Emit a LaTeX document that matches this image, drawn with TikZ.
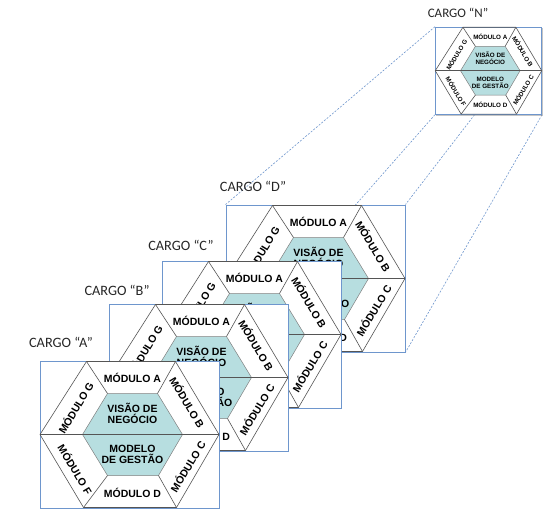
\documentclass[tikz,border=0pt]{standalone}
\usepackage{fontspec}
\setmainfont{Carlito}
\newfontfamily\modfont{Liberation Sans}
\usetikzlibrary{calc, shadows}
\pgfdeclarelayer{fundo}
\pgfsetlayers{fundo,main}

\definecolor{azulquadro}{RGB}{110,150,205}
\definecolor{verdeagua}{RGB}{183,222,224}
\definecolor{linhahex}{RGB}{85,85,85}

\tikzset{
  quadro/.style={draw=azulquadro, fill=white, line width=0.9pt, minimum width=179pt, minimum height=147pt, inner sep=0pt,
    drop shadow={shadow xshift=1.2pt, shadow yshift=-1.2pt, fill=black!45, opacity=0.5}},
  modulo/.style={font=\modfont\bfseries\fontsize{10.5}{11.5}\selectfont, align=center, inner sep=0pt},
  rotulo/.style={font=\fontsize{14.3}{16}\selectfont, text=black!85},
  hexlinha/.style={draw=linhahex, line width=0.6pt},
  perspectiva/.style={draw=azulquadro, dash pattern=on 2pt off 1.5pt, line width=0.6pt},
  cargo/.pic={
    \node[quadro] (-box) at (0,0) {};
    % hexagono externo
    \coordinate (-o1) at (-89.5,0);
    \coordinate (-o2) at (-43,-73);
    \coordinate (-o3) at (46,-73);
    \coordinate (-o4) at (89.5,0);
    \coordinate (-o5) at (47,73);
    \coordinate (-o6) at (-46,73);
    % hexagono interno
    \coordinate (-i1) at (-47,0);
    \coordinate (-i2) at (-22,-41);
    \coordinate (-i3) at (28,-41);
    \coordinate (-i4) at (53,0);
    \coordinate (-i5) at (29,41);
    \coordinate (-i6) at (-22,41);
    \fill[verdeagua] (-i1) -- (-i2) -- (-i3) -- (-i4) -- (-i5) -- (-i6) -- cycle;
    \draw[gray, line width=0.5pt] (-i1) -- (-i2) -- (-i3) -- (-i4) -- (-i5) -- (-i6) -- cycle;
    \draw[hexlinha] (-o1) -- (-o2) -- (-o3) -- (-o4) -- (-o5) -- (-o6) -- cycle;
    \draw[hexlinha] (-o1) -- (-o4);
    \foreach \k in {2,3,5,6} \draw[hexlinha] (-o\k) -- (-i\k);
    \node[modulo] (-a) at (3,-57) {MÓDULO A};
    \node[modulo] (-d) at (3,58) {MÓDULO D};
    \node[modulo] (-visao) at (3,-21) {VISÃO DE\\NEGÓCIO};
    \node[modulo] (-gestao) at (3,20) {MODELO\\DE GESTÃO};
    \node[modulo, rotate=59] (-g) at (-54,-27) {MÓDULO G};
    \node[modulo, rotate=-59] (-b) at (58,-32) {MÓDULO B};
    \node[modulo, rotate=-59] (-f) at (-54,35) {MÓDULO F};
    \node[modulo, rotate=59] (-c) at (58,32) {MÓDULO C};
  }
}

\begin{document}
\begin{tikzpicture}[x=1pt, y=-1pt]
  \useasboundingbox (0,0) rectangle (549,515);
  % cargos, de tras para frente
  \pic (D) at (315.5,278.5) {cargo};
  \pic (C) at (251.5,334.5) {cargo};
  \pic (B) at (198.5,377.5) {cargo};
  \pic (A) at (129.5,434.5) {cargo};
  \begin{scope}[shift={(488.5,70.7)}, scale=0.595, transform shape]
    \pic (N) at (0,0) {cargo};
  \end{scope}
  \node[rotulo] (rA) at (61,342) {CARGO “A”};
  \node[rotulo] (rB) at (117,290) {CARGO “B”};
  \node[rotulo] (rC) at (181,245) {CARGO “C”};
  \node[rotulo] (rD) at (253,186) {CARGO “D”};
  \node[rotulo, font=\fontsize{13}{15}\selectfont] (rN) at (458,13) {CARGO “N”};
  % linhas de perspectiva
  \begin{pgfonlayer}{fundo}
    \draw[perspectiva] (N-box.north west) -- (D-box.north west);
    \draw[perspectiva] (N-box.south west) -- (D-box.south west);
    \draw[perspectiva] ($(N-box.south west)!0.37!(N-box.south east)$) -- (D-box.north east);
    \draw[perspectiva] (N-box.south east) -- (D-box.south east);
  \end{pgfonlayer}
\end{tikzpicture}
\end{document}
